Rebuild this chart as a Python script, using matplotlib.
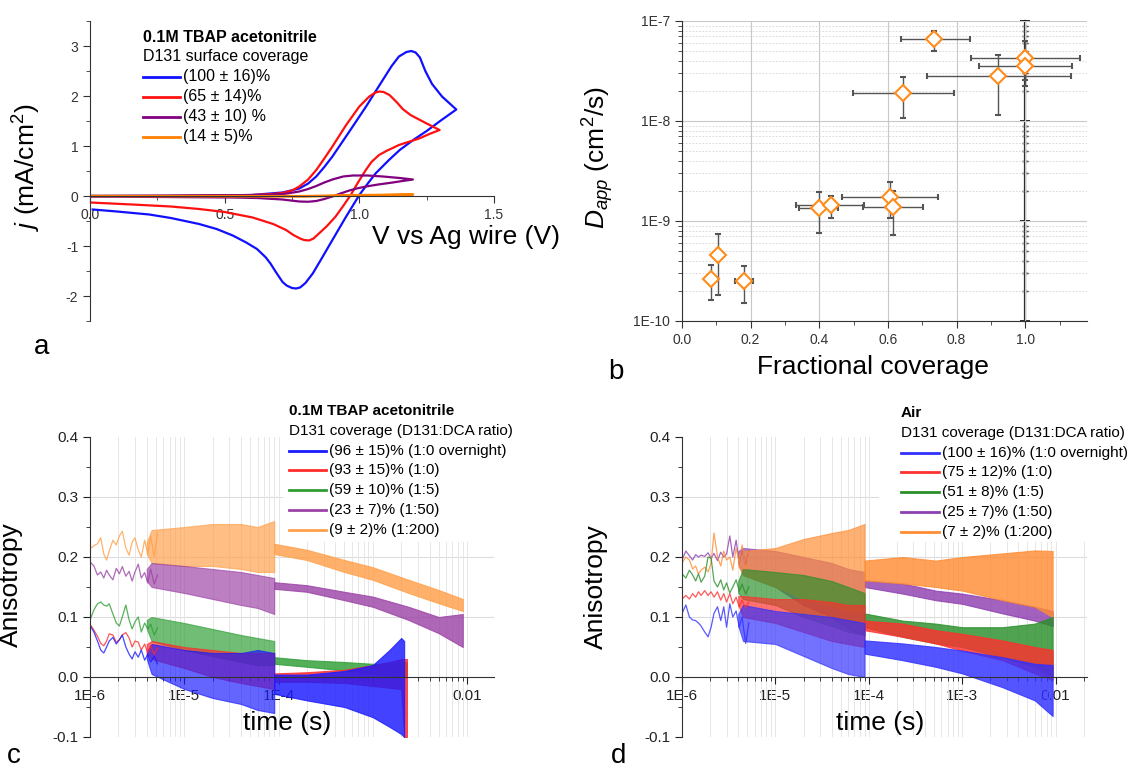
import matplotlib
matplotlib.use('Agg')
import numpy as np
import matplotlib.pyplot as plt
from matplotlib.lines import Line2D
from matplotlib.patches import Rectangle
from matplotlib.ticker import LogLocator, MultipleLocator, NullFormatter

plt.rcParams['font.family'] = ['Liberation Sans', 'DejaVu Sans']
plt.rcParams['mathtext.fontset'] = 'custom'
plt.rcParams['mathtext.rm'] = 'Liberation Sans'
plt.rcParams['mathtext.it'] = 'Liberation Sans:italic'
plt.rcParams['axes.unicode_minus'] = False

# ---------------- panel a : cyclic voltammograms ----------------
cv100_v = [0.0, 0.3, 0.6, 0.715, 0.777, 0.81, 0.84, 0.87, 0.9, 0.963, 1.025, 1.087, 1.12, 1.147, 1.175,
           1.193, 1.209, 1.225, 1.245, 1.27, 1.307, 1.36, 1.3, 1.25, 1.2, 1.15, 1.11, 1.06, 1.03, 1.0,
           0.95, 0.9, 0.86, 0.827, 0.8, 0.78, 0.765, 0.75, 0.73, 0.715, 0.69, 0.67, 0.653, 0.62, 0.58,
           0.53, 0.47, 0.405, 0.3, 0.22, 0.1, 0.01]
cv100_j = [0.0, 0.0, 0.02, 0.07, 0.15, 0.25, 0.39, 0.58, 0.79, 1.29, 1.79, 2.32, 2.6, 2.79, 2.88,
           2.9, 2.87, 2.77, 2.5, 2.24, 1.99, 1.73, 1.5, 1.3, 1.12, 0.92, 0.72, 0.45, 0.24, 0.02,
           -0.42, -0.88, -1.25, -1.55, -1.74, -1.83, -1.85, -1.84, -1.79, -1.72, -1.52, -1.35, -1.23,
           -1.06, -0.93, -0.79, -0.66, -0.56, -0.44, -0.37, -0.31, -0.27]
cv65_v = [0.0, 0.3, 0.6, 0.68, 0.715, 0.75, 0.777, 0.81, 0.84, 0.87, 0.9, 0.951, 1.0, 1.037, 1.06,
          1.075, 1.09, 1.112, 1.14, 1.161, 1.19, 1.211, 1.25, 1.298, 1.26, 1.222, 1.147, 1.1, 1.073,
          1.045, 1.024, 0.995, 0.968, 0.94, 0.912, 0.88, 0.85, 0.83, 0.813, 0.795, 0.78, 0.755, 0.728,
          0.68, 0.604, 0.5, 0.405, 0.3, 0.157, 0.0]
cv65_j = [0.0, 0.0, 0.02, 0.04, 0.06, 0.11, 0.19, 0.33, 0.52, 0.75, 0.99, 1.42, 1.79, 1.99, 2.07,
          2.09, 2.08, 2.02, 1.87, 1.74, 1.62, 1.56, 1.45, 1.32, 1.24, 1.15, 1.02, 0.9, 0.82,
          0.68, 0.52, 0.27, 0.02, -0.2, -0.41, -0.6, -0.75, -0.85, -0.89, -0.88, -0.85, -0.78, -0.68,
          -0.56, -0.43, -0.32, -0.26, -0.21, -0.17, -0.13]
cv43_v = [0.0, 0.653, 0.72, 0.777, 0.81, 0.84, 0.87, 0.9, 0.94, 0.976, 1.03, 1.087, 1.15, 1.199,
          1.16, 1.124, 1.07, 1.025, 0.99, 0.963, 0.93, 0.9, 0.87, 0.84, 0.81, 0.777, 0.745, 0.715,
          0.62, 0.53, 0.0]
cv43_j = [0.0, 0.02, 0.04, 0.09, 0.14, 0.2, 0.27, 0.33, 0.39, 0.41, 0.41, 0.39, 0.36, 0.33,
          0.3, 0.27, 0.23, 0.19, 0.15, 0.11, 0.05, -0.01, -0.06, -0.1, -0.115, -0.11, -0.09, -0.07,
          -0.04, -0.03, -0.01]
cv14_v = [0.0, 0.8, 1.0, 1.2, 1.0, 0.8, 0.0]
cv14_j = [0.0, 0.0, 0.02, 0.03, 0.01, -0.01, 0.0]
leg_a_labels = ['(100 \u00b1 16)%', '(65 \u00b1 14)%', '(43 \u00b1 10) %', '(14 \u00b1 5)%']
col_a = ['#1010ff', '#ff1010', '#800080', '#ff8000']

# ---------------- panel b : D_app vs coverage ----------------
cov = [0.735, 1.0, 1.0, 0.922, 0.645, 0.606, 0.615, 0.398, 0.433, 0.105, 0.0855, 0.18]
cov_lo = [0.637, 0.842, 0.864, 0.713, 0.499, 0.466, 0.527, 0.34, 0.333, 0.105, 0.0855, 0.155]
cov_hi = [0.838, 1.161, 1.135, 1.133, 0.793, 0.746, 0.703, 0.455, 0.53, 0.105, 0.0855, 0.207]
dapp = [6.55e-8, 4.3e-8, 3.57e-8, 2.84e-8, 1.9e-8, 1.75e-9, 1.39e-9, 1.34e-9, 1.43e-9, 4.61e-10, 2.61e-10, 2.49e-10]
dapp_lo = [5.05e-8, 2.24e-8, 2.6e-8, 1.14e-8, 1.07e-8, 1.06e-9, 7.2e-10, 7.6e-10, 1.08e-9, 1.82e-10, 1.61e-10, 1.51e-10]
dapp_hi = [8.0e-8, 6.26e-8, 4.8e-8, 4.53e-8, 2.77e-8, 2.47e-9, 2.0e-9, 1.96e-9, 1.79e-9, 7.4e-10, 3.61e-10, 3.53e-10]

# ---------------- panels c, d : anisotropy decays ----------------
t_early = [1.0e-6, 1.1e-6, 1.2e-6, 1.3e-6, 1.4e-6, 1.5e-6, 1.6e-6, 1.75e-6, 1.9e-6, 2.05e-6, 2.2e-6,
           2.4e-6, 2.6e-6, 2.8e-6, 3.0e-6, 3.25e-6, 3.5e-6, 3.8e-6, 4.1e-6, 4.4e-6, 4.8e-6, 5.2e-6]

c_orange_early = [0.214, 0.219, 0.222, 0.232, 0.205, 0.195, 0.21, 0.228, 0.22, 0.235, 0.243, 0.215,
                  0.203, 0.225, 0.232, 0.212, 0.2, 0.228, 0.205, 0.235, 0.2, 0.24]
c_purple_early = [0.192, 0.185, 0.17, 0.175, 0.165, 0.178, 0.17, 0.162, 0.181, 0.172, 0.184, 0.168,
                  0.176, 0.16, 0.175, 0.188, 0.165, 0.174, 0.157, 0.18, 0.155, 0.17]
c_green_early = [0.095, 0.112, 0.122, 0.125, 0.12, 0.118, 0.122, 0.105, 0.09, 0.085, 0.1, 0.12,
                 0.095, 0.08, 0.092, 0.1, 0.075, 0.09, 0.08, 0.088, 0.07, 0.082]
c_red_early = [0.088, 0.078, 0.068, 0.056, 0.052, 0.06, 0.072, 0.07, 0.058, 0.062, 0.07, 0.074,
               0.065, 0.05, 0.06, 0.058, 0.045, 0.055, 0.04, 0.052, 0.038, 0.048]
c_blue_early = [0.086, 0.075, 0.06, 0.045, 0.04, 0.05, 0.06, 0.066, 0.055, 0.062, 0.07, 0.05,
                0.038, 0.03, 0.042, 0.033, 0.045, 0.028, 0.038, 0.025, 0.035, 0.022]

# band envelopes (lower / upper edge of the noisy trace); 9e-5 s appears twice:
# end of the first acquisition window and start of the second
c_long_t = [4.0e-6, 4.5e-6, 1e-5, 2e-5, 4e-5, 6e-5, 9.0e-5, 9.0e-5, 2e-4, 5e-4, 1e-3, 2.4e-3, 5e-3, 9e-3]
c_orange_lo = [0.205, 0.19, 0.185, 0.185, 0.18, 0.175, 0.175, 0.205, 0.195, 0.175, 0.162, 0.14, 0.123, 0.11]
c_orange_hi = [0.225, 0.245, 0.25, 0.255, 0.255, 0.25, 0.26, 0.222, 0.212, 0.195, 0.183, 0.162, 0.145, 0.13]
c_purple_lo = [0.16, 0.15, 0.14, 0.13, 0.12, 0.115, 0.105, 0.147, 0.142, 0.128, 0.117, 0.095, 0.073, 0.05]
c_purple_hi = [0.18, 0.19, 0.185, 0.18, 0.175, 0.17, 0.165, 0.158, 0.153, 0.142, 0.134, 0.117, 0.1, 0.105]
c_short_t = [4.0e-6, 4.5e-6, 1e-5, 2e-5, 4e-5, 6e-5, 9.0e-5, 9.0e-5, 2e-4, 5e-4, 1e-3, 1.5e-3, 2e-3,
             2.15e-3, 2.3e-3]
c_green_lo = [0.08, 0.06, 0.045, 0.035, 0.025, 0.02, 0.02, 0.022, 0.017, 0.011, 0.006, 0.003, 0.0, 0.0, 0.0]
c_green_hi = [0.095, 0.1, 0.09, 0.08, 0.07, 0.065, 0.06, 0.033, 0.028, 0.025, 0.022, 0.022, 0.025, 0.025, 0.025]
c_red_lo = [0.042, 0.03, 0.015, 0.0, -0.01, -0.015, -0.02, -0.008, -0.008, -0.01, -0.015, -0.018, -0.02,
            -0.1, -0.1]
c_red_hi = [0.055, 0.06, 0.05, 0.045, 0.04, 0.04, 0.04, 0.006, 0.008, 0.012, 0.02, 0.025, 0.03, 0.03, 0.03]
c_blue_lo = [0.03, 0.005, -0.02, -0.035, -0.045, -0.055, -0.06, -0.028, -0.039, -0.05, -0.067, -0.083,
             -0.095, -0.1]
c_blue_hi = [0.042, 0.055, 0.045, 0.04, 0.04, 0.045, 0.04, 0.004, 0.004, 0.01, 0.02, 0.045, 0.065, 0.06]

d_purple_early = [0.195, 0.21, 0.202, 0.195, 0.204, 0.2, 0.203, 0.201, 0.207, 0.198, 0.206, 0.194,
                  0.208, 0.2, 0.205, 0.235, 0.2, 0.228, 0.19, 0.214, 0.185, 0.21]
d_orange_early = [0.19, 0.2, 0.195, 0.18, 0.185, 0.172, 0.178, 0.183, 0.175, 0.19, 0.24, 0.2,
                  0.185, 0.21, 0.195, 0.2, 0.178, 0.215, 0.19, 0.22, 0.18, 0.21]
d_green_early = [0.172, 0.165, 0.178, 0.17, 0.16, 0.172, 0.158, 0.168, 0.2, 0.198, 0.16, 0.15,
                 0.162, 0.145, 0.157, 0.14, 0.15, 0.162, 0.143, 0.155, 0.138, 0.15]
d_red_early = [0.13, 0.136, 0.13, 0.139, 0.133, 0.142, 0.136, 0.144, 0.136, 0.142, 0.133, 0.142,
               0.128, 0.139, 0.125, 0.139, 0.122, 0.133, 0.117, 0.128, 0.115, 0.125]
d_blue_early = [0.106, 0.12, 0.1, 0.095, 0.094, 0.09, 0.085, 0.075, 0.067, 0.083, 0.106, 0.117,
                0.094, 0.117, 0.083, 0.122, 0.1, 0.11, 0.083, 0.1, 0.056, 0.09]

d_band_t = [4.0e-6, 4.5e-6, 1e-5, 2e-5, 4e-5, 6e-5, 9.0e-5, 9.0e-5, 2.3e-4, 5.2e-4, 1e-3, 2.7e-3, 6e-3, 9.3e-3]
d_orange_lo = [0.185, 0.17, 0.15, 0.13, 0.12, 0.11, 0.11, 0.161, 0.156, 0.15, 0.144, 0.128, 0.117, 0.1]
d_orange_hi = [0.205, 0.21, 0.215, 0.23, 0.24, 0.245, 0.255, 0.194, 0.2, 0.194, 0.2, 0.206, 0.211, 0.21]
d_purple_lo = [0.19, 0.17, 0.15, 0.12, 0.1, 0.08, 0.07, 0.15, 0.139, 0.128, 0.122, 0.106, 0.094, 0.085]
d_purple_hi = [0.21, 0.215, 0.21, 0.2, 0.19, 0.18, 0.175, 0.161, 0.156, 0.144, 0.139, 0.128, 0.117, 0.11]
d_green_lo = [0.14, 0.13, 0.12, 0.1, 0.085, 0.075, 0.07, 0.083, 0.067, 0.056, 0.05, 0.033, 0.017, 0.0]
d_green_hi = [0.16, 0.18, 0.175, 0.17, 0.16, 0.15, 0.14, 0.106, 0.094, 0.089, 0.083, 0.083, 0.089, 0.1]
d_red_lo = [0.12, 0.1, 0.09, 0.075, 0.06, 0.055, 0.05, 0.078, 0.067, 0.056, 0.044, 0.028, 0.006, -0.005]
d_red_hi = [0.135, 0.135, 0.13, 0.13, 0.125, 0.12, 0.12, 0.094, 0.089, 0.078, 0.072, 0.061, 0.05, 0.045]
d_blue_lo = [0.085, 0.06, 0.055, 0.035, 0.015, 0.005, 0.0, 0.039, 0.028, 0.017, 0.006, -0.017, -0.039, -0.065]
d_blue_hi = [0.105, 0.12, 0.11, 0.105, 0.1, 0.095, 0.09, 0.061, 0.056, 0.05, 0.044, 0.033, 0.022, 0.02]

leg_c_labels = ['(96 \u00b1 15)% (1:0 overnight)', '(93 \u00b1 15)% (1:0)', '(59 \u00b1 10)% (1:5)',
                '(23 \u00b1 7)% (1:50)', '(9 \u00b1 2)% (1:200)']
leg_d_labels = ['(100 \u00b1 16)% (1:0 overnight)', '(75 \u00b1 12)% (1:0)', '(51 \u00b1 8)% (1:5)',
                '(25 \u00b1 7)% (1:50)', '(7 \u00b1 2)% (1:200)']
col_c = ['#1a1aff', '#ff2a2a', '#2e9e35', '#9c44a6', '#ffa04a']
col_d = ['#3030ff', '#ff3030', '#2a8f2a', '#8e3fb0', '#ff8c33']
ani_ticks = [-0.1, 0.0, 0.1, 0.2, 0.3, 0.4]
t_switch = 9.0e-5

W, H = 1142, 771
fig = plt.figure(figsize=(W / 100, H / 100), dpi=100)


def fx(px):
    return px / W


def fy(py):
    return 1 - py / H


def box(left, top, right, bottom):
    return [fx(left), fy(bottom), (right - left) / W, (bottom - top) / H]


ax_a = fig.add_axes(box(90, 21, 494, 321))
ax_b = fig.add_axes(box(682, 21, 1087, 321))
ax_c = fig.add_axes(box(90, 437, 494, 737))
ax_d = fig.add_axes(box(682, 437, 1087, 737))

spine_col = '#333333'


def legend_block(title, sub, labels, colors, x0, y0, line_len, fs, dy):
    fig.text(fx(x0), fy(y0), title, fontsize=fs, fontweight='bold', va='center', ha='left')
    fig.text(fx(x0), fy(y0 + dy), sub, fontsize=fs, va='center', ha='left')
    for i, (lab, c) in enumerate(zip(labels, colors)):
        y = y0 + dy * (i + 2)
        fig.add_artist(Line2D([fx(x0), fx(x0 + line_len)], [fy(y), fy(y)], color=c, lw=2))
        fig.text(fx(x0 + line_len + 3), fy(y), lab, fontsize=fs, va='center', ha='left')


# ---- a ----
for v, j, c in zip([cv100_v, cv65_v, cv43_v, cv14_v], [cv100_j, cv65_j, cv43_j, cv14_j], col_a):
    ax_a.plot(v, j, color=c, lw=1.6)
ax_a.set_xlim(0, 1.5)
ax_a.set_ylim(-2.5, 3.5)
ax_a.spines['top'].set_visible(False)
ax_a.spines['right'].set_visible(False)
ax_a.spines['bottom'].set_position(('data', 0))
for s in ax_a.spines.values():
    s.set_color(spine_col)
ax_a.set_xticks([0, 0.5, 1.0, 1.5], ['0.0', '0.5', '1.0', '1.5'])
ax_a.set_yticks([-2, -1, 0, 1, 2, 3], ['-2', '-1', '0', '1', '2', '3'])
ax_a.xaxis.set_minor_locator(MultipleLocator(0.25))
ax_a.yaxis.set_minor_locator(MultipleLocator(0.5))
ax_a.tick_params(which='major', length=5, labelsize=10, colors=spine_col)
ax_a.tick_params(which='minor', length=3, colors=spine_col)
ax_a.set_ylabel('$j$ (mA/cm$^2$)', fontsize=19)
ax_a.yaxis.set_label_coords(-0.116, 0.513)
ax_a.set_xlabel('V vs Ag wire (V)', fontsize=19, ha='left', va='center')
ax_a.xaxis.set_label_coords(0.698, 0.28)
legend_block('0.1M TBAP acetonitrile', 'D131 surface coverage', leg_a_labels, col_a,
             143, 37, 37, 11.5, 20)

# ---- b ----
cov_a, dapp_a = np.array(cov), np.array(dapp)
xerr = [cov_a - np.array(cov_lo), np.array(cov_hi) - cov_a]
yerr = [dapp_a - np.array(dapp_lo), np.array(dapp_hi) - dapp_a]
ax_b.errorbar(cov, dapp, xerr=xerr, yerr=yerr, fmt='D', mfc='white', mec='#ff8c1a', ms=8, mew=1.5,
              ecolor='#555555', elinewidth=1, capsize=2.5, capthick=1, zorder=3)
ax_b.set_yscale('log')
ax_b.set_xlim(0, 1.18)
ax_b.set_ylim(1e-10, 1e-7)
ax_b.set_axisbelow(True)
ax_b.spines['top'].set_visible(False)
ax_b.spines['right'].set_visible(False)
for s in ax_b.spines.values():
    s.set_color(spine_col)
ax_b.set_xticks([0, 0.2, 0.4, 0.6, 0.8, 1.0], ['0.0', '0.2', '0.4', '0.6', '0.8', '1.0'])
ax_b.xaxis.set_minor_locator(MultipleLocator(0.1))
ax_b.set_yticks([1e-10, 1e-9, 1e-8, 1e-7], ['1E-10', '1E-9', '1E-8', '1E-7'])
ax_b.yaxis.set_minor_locator(LogLocator(base=10, subs=np.arange(2, 10)))
ax_b.yaxis.set_minor_formatter(NullFormatter())
ax_b.tick_params(which='major', length=5, labelsize=10, colors=spine_col)
ax_b.tick_params(which='minor', length=3, colors=spine_col)
ax_b.grid(which='major', color='#c8c8c8', lw=0.8)
ax_b.grid(which='minor', axis='y', color='#d4d4d4', lw=0.6, ls=(0, (2, 2)))
sec = ax_b.secondary_yaxis(1.0 / 1.18)
sec.spines['right'].set_linewidth(1.6)
sec.spines['right'].set_color('#222222')
sec.yaxis.set_major_formatter(NullFormatter())
sec.yaxis.set_minor_formatter(NullFormatter())
sec.tick_params(which='major', direction='inout', length=7, width=1.2)
sec.tick_params(which='minor', direction='inout', length=4, width=1)
ax_b.set_ylabel('$D_{app}$ (cm$^2$/s)', fontsize=19)
ax_b.yaxis.set_label_coords(-0.163, 0.543)
ax_b.set_xlabel('Fractional coverage', fontsize=19, va='center')
ax_b.xaxis.set_label_coords(0.472, -0.153)


# ---- c, d ----
def setup_aniso(ax, xmax, labels):
    ax.set_xscale('log')
    ax.set_xlim(1e-6, xmax)
    ax.set_ylim(-0.1, 0.4)
    ax.set_axisbelow(True)
    ax.spines['top'].set_visible(False)
    ax.spines['right'].set_visible(False)
    ax.spines['bottom'].set_position(('data', 0))
    for s in ax.spines.values():
        s.set_color(spine_col)
    ax.set_xticks([1e-6, 1e-5, 1e-4, 1e-3, 1e-2], labels)
    ax.xaxis.set_minor_locator(LogLocator(base=10, subs=np.arange(2, 10)))
    ax.xaxis.set_minor_formatter(NullFormatter())
    ax.set_yticks(ani_ticks, ['%.1f' % v for v in ani_ticks])
    ax.yaxis.set_minor_locator(MultipleLocator(0.05))
    ax.tick_params(which='major', length=5, labelsize=11, colors='#222222')
    ax.tick_params(which='minor', length=3, colors='#222222')
    ax.grid(which='both', axis='x', color='#e6e6e6', lw=0.7)
    for v in ani_ticks[2:-1]:
        ax.axhline(v, color='#dcdcdc', lw=0.8, zorder=0.5)
    ax.set_ylabel('Anisotropy', fontsize=19)
    ax.set_xlabel('time (s)', fontsize=19, va='center')


def draw_trace(ax, early, t, lo, hi, c):
    ax.plot(t_early, early, color=c, lw=0.9, alpha=0.8, zorder=2)
    k = list(t).index(t_switch) + 1
    # first acquisition window lighter, second window denser
    ax.fill_between(t[:k], lo[:k], hi[:k], facecolor=c, edgecolor=c, alpha=0.68, lw=0.8, zorder=1.2)
    ax.fill_between(t[k:], lo[k:], hi[k:], facecolor=c, edgecolor=c, alpha=0.82, lw=0.8, zorder=1.2)


setup_aniso(ax_c, 1.93e-2, ['1E-6', '1E-5', '1E-4', '', '0.01'])
ax_c.yaxis.set_label_coords((23 - 90) / 404, 0.507)
ax_c.xaxis.set_label_coords((287 - 90) / 404, 0.047)
ax_c.add_patch(Rectangle((fx(283), fy(542)), (494 - 283) / W, (542 - 420) / H, transform=fig.transFigure,
                         facecolor='white', edgecolor='none', zorder=0.8))

setup_aniso(ax_d, 2.17e-2, ['1E-6', '1E-5', '1E-4', '1E-3', '0.01'])
ax_d.yaxis.set_label_coords((608 - 682) / 405, 0.5)
ax_d.xaxis.set_label_coords((880 - 682) / 405, 0.047)
ax_d.add_patch(Rectangle((fx(879), fy(542)), (1090 - 879) / W, (542 - 420) / H, transform=fig.transFigure,
                         facecolor='white', edgecolor='none', zorder=0.8))

# order: orange/purple underneath, blue on top
draw_trace(ax_c, c_orange_early, c_long_t, c_orange_lo, c_orange_hi, col_c[4])
draw_trace(ax_c, c_purple_early, c_long_t, c_purple_lo, c_purple_hi, col_c[3])
draw_trace(ax_c, c_green_early, c_short_t, c_green_lo, c_green_hi, col_c[2])
draw_trace(ax_c, c_red_early, c_short_t, c_red_lo, c_red_hi, col_c[1])
draw_trace(ax_c, c_blue_early, c_short_t[:14], c_blue_lo, c_blue_hi, col_c[0])

draw_trace(ax_d, d_purple_early, d_band_t, d_purple_lo, d_purple_hi, col_d[3])
draw_trace(ax_d, d_orange_early, d_band_t, d_orange_lo, d_orange_hi, col_d[4])
draw_trace(ax_d, d_green_early, d_band_t, d_green_lo, d_green_hi, col_d[2])
draw_trace(ax_d, d_red_early, d_band_t, d_red_lo, d_red_hi, col_d[1])
draw_trace(ax_d, d_blue_early, d_band_t, d_blue_lo, d_blue_hi, col_d[0])

legend_block('0.1M TBAP acetonitrile', 'D131 coverage (D131:DCA ratio)', leg_c_labels, col_c,
             289, 411, 37, 11, 19.8)
legend_block('Air', 'D131 coverage (D131:DCA ratio)', leg_d_labels, col_d,
             901, 413, 38, 11, 19.8)

# panel letters
for lab, x, y in [('a', 42, 347), ('b', 616, 372), ('c', 14, 756), ('d', 619, 756)]:
    fig.text(fx(x), fy(y), lab, fontsize=20, ha='center', va='center')

fig.savefig('out.png', dpi=100)
